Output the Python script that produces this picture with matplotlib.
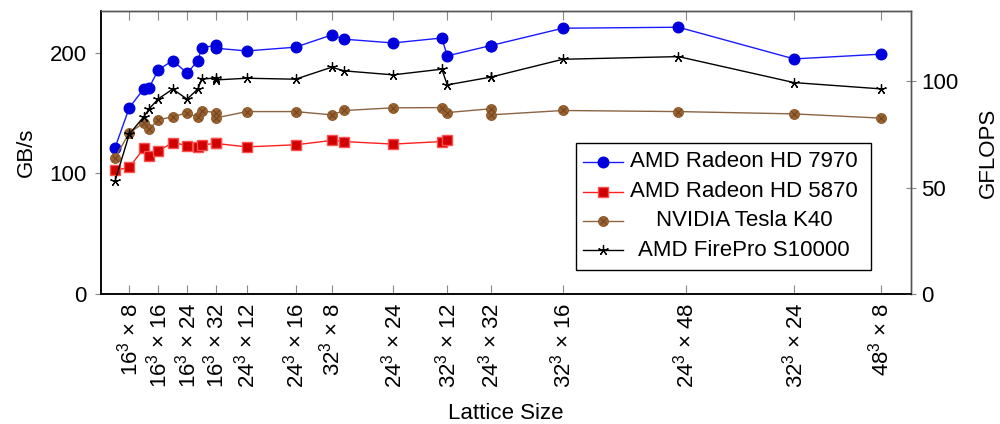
import matplotlib
matplotlib.use("Agg")
import matplotlib.pyplot as plt
from matplotlib.lines import Line2D
from matplotlib.patches import Rectangle
import numpy as np

plt.rcParams['font.family'] = ['Liberation Sans', 'DejaVu Sans']
plt.rcParams['mathtext.fontset'] = 'custom'
plt.rcParams['mathtext.rm'] = 'Liberation Sans'
plt.rcParams['mathtext.it'] = 'Liberation Sans:italic'
plt.rcParams['mathtext.bf'] = 'Liberation Sans:bold'

# lattice sizes (spatial extent, temporal extent), ordered by volume
lat_s = [16, 16, 16, 24, 16, 16, 16, 24, 16, 16, 32, 24, 24, 32, 24, 24, 24, 32, 24, 48, 32, 32, 32, 48]
lat_t = [4, 8, 12, 4, 16, 20, 24, 8, 28, 32, 4, 12, 16, 8, 20, 24, 28, 12, 32, 4, 16, 20, 24, 8]

hd7970 = [121.0, 154.5, 170.0, 171.1, 185.7, 193.4, 183.0, 193.4, 203.6, 206.4, 203.6, 201.4,
          204.5, 214.6, 211.1, 208.0, 212.1, 197.3, 205.8, 205.8, 220.2, 221.0, 194.8, 198.7]
hd5870 = [102.6, 105.0, 120.7, 114.2, 118.5, 125.6, 123.1, 121.7, 123.7, 124.8, 124.8, 122.0,
          123.7, 127.3, 126.4, 124.3, 126.4, 127.3]
k40 = [113.0, 133.6, 141.9, 136.7, 144.4, 146.9, 150.2, 146.4, 151.8, 150.4, 146.0, 151.2,
       151.2, 148.5, 152.1, 154.3, 154.5, 150.4, 153.5, 148.5, 152.1, 151.2, 149.3, 145.8]
s10000 = [93.4, 132.6, 146.9, 153.5, 161.7, 169.8, 161.5, 170.0, 178.0, 179.1, 177.4, 178.8,
          178.0, 187.9, 184.9, 181.6, 186.3, 173.3, 179.7, 179.7, 194.5, 196.7, 175.2, 170.0]

# labelled ticks
tick_s = [16, 16, 16, 16, 24, 24, 32, 24, 32, 24, 32, 24, 32, 48]
tick_t = [8, 16, 24, 32, 12, 16, 8, 24, 12, 32, 16, 48, 24, 8]

names = ['AMD Radeon HD 7970', 'AMD Radeon HD 5870', 'NVIDIA Tesla K40', 'AMD FirePro S10000']

vol = np.array(lat_s) ** 3 * np.array(lat_t)
tick_vol = np.array(tick_s) ** 3 * np.array(tick_t)
tick_lbl = [f"{s}$^3$ \u00d7 {t}" for s, t in zip(tick_s, tick_t)]

fig = plt.figure(figsize=(10, 4.24), dpi=100)
ax = fig.add_axes([0.1007, 0.3059, 0.8103, 0.6689])
ax2 = ax.twinx()

FS = 16

styles = [
    dict(color='#1a1aff', lw=1.0, marker='o', ms=7.6, mfc='#0000dd', mec='#0000dd'),
    dict(color='#ff2020', lw=1.0, marker='s', ms=7.4, mfc='#d00000', mec='#ff5050', mew=1.0),
    dict(color='#8a6444', lw=1.0, marker='o', ms=7.2, mfc='#9a6230', mec='#8a5828', mew=0.6),
    dict(color='black', lw=1.0, marker=(5, 2, 0), ms=7.5, mfc='none', mec='black', mew=0.9),
]
xstyle = dict(ls='none', marker='x', ms=4.8, mec='#6e4220', mew=0.7)

ax.plot(vol, hd7970, **styles[0], zorder=3)
ax.plot(vol[:len(hd5870)], hd5870, **styles[1], zorder=3)
ax.plot(vol, k40, **styles[2], zorder=3)
ax.plot(vol, k40, **xstyle, zorder=3)
ax.plot(vol, s10000, **styles[3], zorder=4)

ax.set_xlim(300, 919000)
ax.set_ylim(0, 234.7)
ax2.set_ylim(0, 133.1)

ax.set_xticks(tick_vol)
ax.set_xticklabels(tick_lbl, rotation=90, fontsize=FS)
ax.set_yticks([0, 100, 200])
ax.set_yticklabels(['0', '100', '200'], fontsize=FS)
ax2.set_yticks([0, 50, 100])
ax2.set_yticklabels(['0', '50', '100'], fontsize=FS)

ax.tick_params(axis='x', direction='in', length=6.5, width=0.8, color='#888888',
               top=True, bottom=True, pad=6)
ax.tick_params(axis='y', direction='out', length=4, width=0.8, color='#888888',
               left=True, right=False, pad=6)
ax2.tick_params(axis='y', direction='inout', length=7, width=0.8, color='#888888', pad=4)

for a in (ax, ax2):
    for sp in ('top', 'right'):
        a.spines[sp].set_color('#555555')
        a.spines[sp].set_linewidth(1.0)
    for sp in ('left', 'bottom'):
        a.spines[sp].set_color('black')
        a.spines[sp].set_linewidth(1.1)

ax.set_xlabel('Lattice Size', fontsize=FS)
ax.xaxis.set_label_coords(0.5, -0.385)
ax.set_ylabel('GB/s', fontsize=FS)
ax.yaxis.set_label_coords(-0.079, 0.5)
ax2.set_ylabel('GFLOPS', fontsize=FS)
ax2.yaxis.set_label_coords(1.083, 0.5)

# legend (pgfplots style, centered text)
def fx(px):
    return px / 1000.0

def fy(py):
    return 1 - py / 424.0

fig.add_artist(Rectangle((fx(575.7), fy(270)), fx(871) - fx(575.7), fy(143.3) - fy(270),
                         transform=fig.transFigure, facecolor='white', edgecolor='black',
                         lw=1.0, zorder=10))
rows = [161.7, 191.7, 221.0, 250.3]
for i, (name, st, ry) in enumerate(zip(names, styles, rows)):
    st2 = dict(st)
    fig.add_artist(Line2D([fx(583), fx(623)], [fy(ry), fy(ry)], transform=fig.transFigure,
                          color=st2.pop('color'), lw=st2.pop('lw'), zorder=11))
    fig.add_artist(Line2D([fx(603)], [fy(ry)], transform=fig.transFigure, ls='none',
                          zorder=12, **st2))
    if i == 2:
        fig.add_artist(Line2D([fx(603)], [fy(ry)], transform=fig.transFigure, zorder=13,
                              **xstyle))
    fig.text(fx(744), fy(ry), name, ha='center', va='center', fontsize=FS, zorder=14)

fig.savefig('out.png', dpi=100)
